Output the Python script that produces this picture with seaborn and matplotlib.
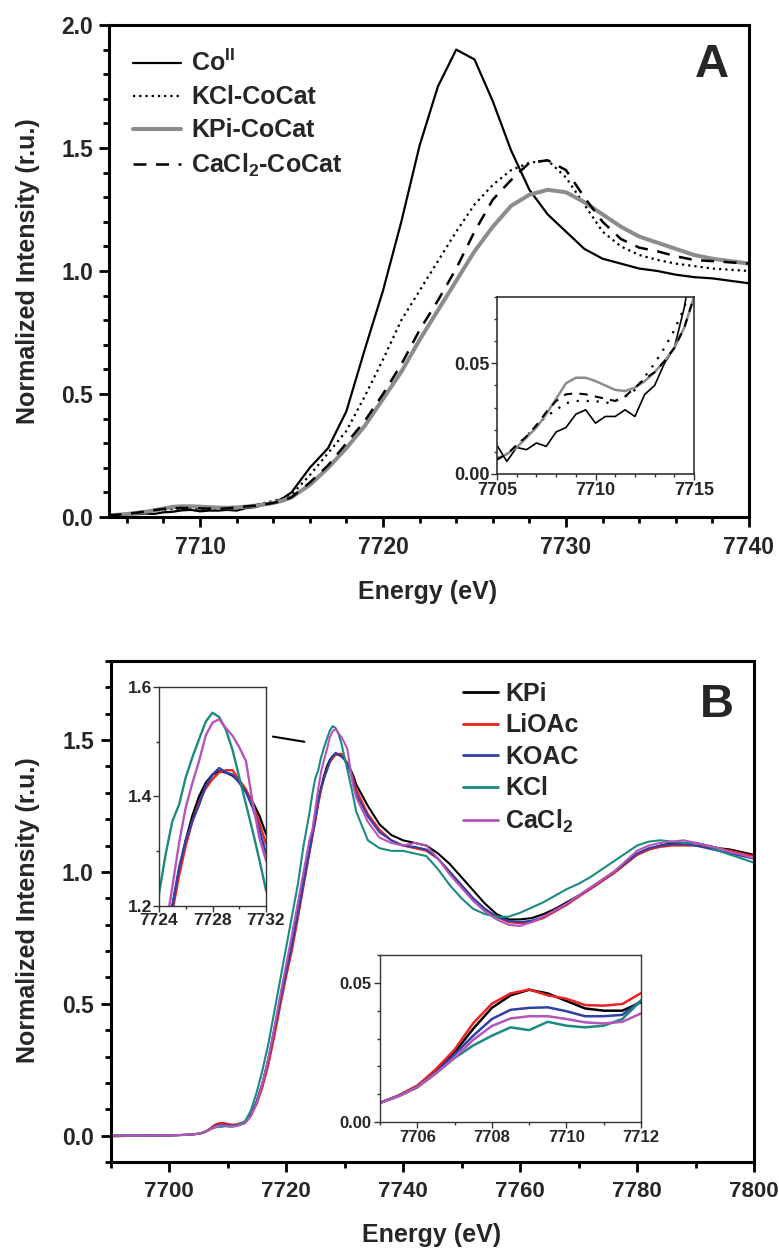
import numpy as np
import pandas as pd
import matplotlib
matplotlib.use("Agg")
import matplotlib.pyplot as plt
import seaborn as sns
from matplotlib.ticker import MultipleLocator, FormatStrFormatter

# ---------------- Panel A data ----------------
energy_a = [7705, 7705.5, 7706, 7706.5, 7707, 7707.5, 7708, 7708.5, 7709, 7709.5,
            7710, 7710.5, 7711, 7711.5, 7712, 7712.5, 7713, 7713.5, 7714, 7714.5, 7715,
            7716, 7717, 7718, 7719, 7720, 7721, 7722, 7723, 7724, 7725, 7726, 7727,
            7728, 7729, 7730, 7731, 7732, 7733, 7734, 7735, 7736, 7737, 7738, 7739, 7740]
co_ii = [0.013, 0.0057, 0.012, 0.011, 0.014, 0.0125, 0.019, 0.021, 0.027, 0.029,
         0.023, 0.026, 0.026, 0.029, 0.026, 0.036, 0.040, 0.050, 0.057, 0.075, 0.10,
         0.20, 0.28, 0.43, 0.68, 0.92, 1.20, 1.51, 1.75, 1.90, 1.86, 1.69, 1.49,
         1.33, 1.23, 1.16, 1.09, 1.05, 1.03, 1.01, 1.00, 0.985, 0.975, 0.97, 0.96, 0.95]
kcl_cocat = [0.007, 0.009, 0.013, 0.017, 0.022, 0.026, 0.029, 0.032, 0.033, 0.033,
             0.033, 0.032, 0.033, 0.035, 0.038, 0.044, 0.050, 0.057, 0.065, 0.075, 0.09,
             0.17, 0.26, 0.35, 0.49, 0.64, 0.80, 0.92, 1.04, 1.16, 1.27, 1.35, 1.41,
             1.44, 1.45, 1.38, 1.27, 1.16, 1.10, 1.065, 1.045, 1.03, 1.02, 1.01, 1.005, 1.00]
kpi_cocat = [0.007, 0.009, 0.012, 0.0165, 0.021, 0.027, 0.034, 0.041, 0.0435, 0.0435,
             0.042, 0.040, 0.038, 0.0375, 0.039, 0.042, 0.046, 0.051, 0.057, 0.066, 0.08,
             0.13, 0.20, 0.28, 0.37, 0.48, 0.59, 0.72, 0.84, 0.96, 1.08, 1.18, 1.265,
             1.31, 1.33, 1.32, 1.28, 1.23, 1.18, 1.14, 1.115, 1.09, 1.065, 1.05, 1.04, 1.03]
cacl2_cocat = [0.0065, 0.009, 0.013, 0.017, 0.022, 0.028, 0.033, 0.036, 0.0365, 0.036,
               0.035, 0.034, 0.033, 0.035, 0.039, 0.043, 0.046, 0.051, 0.057, 0.066, 0.08,
               0.14, 0.21, 0.30, 0.39, 0.50, 0.62, 0.76, 0.88, 1.01, 1.16, 1.29, 1.37,
               1.44, 1.45, 1.41, 1.30, 1.20, 1.13, 1.095, 1.08, 1.06, 1.045, 1.04, 1.035, 1.03]
legend_a = ["Co$^{II}$", "KCl-CoCat", "KPi-CoCat", "CaCl$_{2}$-CoCat"]

# ---------------- Panel B data ----------------
energy_b = [7690, 7695, 7700, 7703,
            7705, 7705.5, 7706, 7706.5, 7707, 7707.5, 7708, 7708.5, 7709, 7709.5,
            7710, 7710.5, 7711, 7711.5, 7712,
            7713, 7714, 7715, 7716, 7717, 7718, 7719, 7720, 7721, 7722, 7723,
            7724, 7724.5, 7725, 7725.5, 7726, 7726.5, 7727, 7727.5, 7728, 7728.5,
            7729, 7729.5, 7730, 7730.5, 7731, 7731.5, 7732,
            7734, 7736, 7738, 7740, 7742, 7744, 7746, 7748, 7750, 7752, 7754, 7756,
            7758, 7760, 7762, 7764, 7766, 7768, 7770, 7772, 7774, 7776, 7778, 7780,
            7782, 7784, 7786, 7788, 7790, 7792, 7794, 7796, 7798, 7800]
kpi = [0.0, 0.0, 0.001, 0.003,
       0.0069, 0.0095, 0.013, 0.0185, 0.025, 0.0335, 0.041, 0.0455, 0.0475, 0.0462,
       0.0435, 0.0408, 0.040, 0.040, 0.043,
       0.05, 0.08, 0.13, 0.20, 0.29, 0.40, 0.51, 0.62, 0.72, 0.84, 0.96,
       1.08, 1.14, 1.20, 1.265, 1.32, 1.365, 1.40, 1.425, 1.44, 1.446,
       1.444, 1.438, 1.428, 1.41, 1.39, 1.365, 1.332,
       1.25, 1.18, 1.14, 1.12, 1.11, 1.10, 1.07, 1.03, 0.98, 0.93, 0.88, 0.84,
       0.82, 0.82, 0.825, 0.84, 0.86, 0.885, 0.91, 0.935, 0.965, 0.995, 1.03, 1.065,
       1.085, 1.10, 1.11, 1.11, 1.11, 1.10, 1.09, 1.085, 1.075, 1.065]
lioac = [-0.003, 0.0, 0.001, 0.003,
         0.0069, 0.0095, 0.013, 0.019, 0.026, 0.0355, 0.0425, 0.0462, 0.0476, 0.0455,
         0.0443, 0.042, 0.0418, 0.0424, 0.0463,
         0.048, 0.075, 0.12, 0.185, 0.27, 0.375, 0.49, 0.60, 0.70, 0.82, 0.945,
         1.07, 1.13, 1.19, 1.255, 1.31, 1.355, 1.39, 1.415, 1.432, 1.444,
         1.448, 1.448, 1.43, 1.413, 1.385, 1.352, 1.314,
         1.22, 1.16, 1.12, 1.10, 1.09, 1.08, 1.05, 1.00, 0.95, 0.90, 0.86, 0.83,
         0.81, 0.805, 0.81, 0.825, 0.85, 0.875, 0.905, 0.935, 0.965, 0.995, 1.03, 1.065,
         1.085, 1.095, 1.10, 1.10, 1.10, 1.095, 1.09, 1.08, 1.07, 1.06]
koac = [0.0, 0.0, 0.001, 0.003,
        0.0069, 0.0093, 0.0125, 0.0178, 0.0243, 0.031, 0.037, 0.0403, 0.041, 0.0412,
        0.0398, 0.038, 0.038, 0.0385, 0.0436,
        0.05, 0.08, 0.13, 0.20, 0.29, 0.40, 0.51, 0.62, 0.72, 0.84, 0.96,
        1.08, 1.14, 1.20, 1.27, 1.32, 1.355, 1.385, 1.42, 1.44, 1.452,
        1.444, 1.44, 1.425, 1.408, 1.38, 1.34, 1.296,
        1.21, 1.15, 1.12, 1.10, 1.095, 1.085, 1.05, 1.00, 0.95, 0.90, 0.86, 0.83,
        0.815, 0.81, 0.815, 0.83, 0.855, 0.88, 0.91, 0.94, 0.97, 1.00, 1.035, 1.07,
        1.09, 1.10, 1.105, 1.105, 1.10, 1.09, 1.08, 1.07, 1.06, 1.05]
kcl = [0.0, 0.0, 0.001, 0.003,
       0.0069, 0.0093, 0.0125, 0.0175, 0.023, 0.0275, 0.031, 0.034, 0.033, 0.036,
       0.0346, 0.034, 0.0346, 0.037, 0.0436,
       0.055, 0.095, 0.165, 0.25, 0.35, 0.47, 0.59, 0.71, 0.83, 0.95, 1.10,
       1.2225, 1.295, 1.355, 1.385, 1.435, 1.472, 1.505, 1.537, 1.553, 1.545,
       1.522, 1.485, 1.435, 1.386, 1.337, 1.285, 1.229,
       1.12, 1.09, 1.08, 1.08, 1.07, 1.06, 1.01, 0.95, 0.90, 0.86, 0.84, 0.83,
       0.83, 0.845, 0.865, 0.885, 0.91, 0.935, 0.955, 0.98, 1.01, 1.04, 1.07, 1.10,
       1.115, 1.12, 1.115, 1.11, 1.11, 1.10, 1.08, 1.065, 1.05, 1.035]
cacl2 = [0.0, 0.0, 0.001, 0.003,
         0.0069, 0.0093, 0.0125, 0.0175, 0.0231, 0.0295, 0.0345, 0.0372, 0.038, 0.038,
         0.037, 0.0358, 0.0354, 0.036, 0.039,
         0.047, 0.075, 0.125, 0.20, 0.295, 0.41, 0.53, 0.645, 0.76, 0.88, 1.00,
         1.12, 1.16, 1.235, 1.315, 1.38, 1.425, 1.465, 1.512, 1.535, 1.541,
         1.525, 1.511, 1.49, 1.465, 1.39, 1.325, 1.283,
         1.19, 1.13, 1.11, 1.10, 1.11, 1.10, 1.05, 0.99, 0.94, 0.89, 0.85, 0.82,
         0.80, 0.795, 0.81, 0.83, 0.855, 0.88, 0.91, 0.94, 0.97, 1.00, 1.04, 1.08,
         1.10, 1.11, 1.115, 1.12, 1.11, 1.10, 1.09, 1.075, 1.065, 1.05]
legend_b = ["KPi", "LiOAc", "KOAC", "KCl", "CaCl$_{2}$"]
colors_b = ["#000000", "#ee2222", "#3040a8", "#1b8a80", "#b555bb"]

# ---------------- Style ----------------
sns.set_theme(style="ticks")
plt.rcParams["font.family"] = ["Liberation Sans", "DejaVu Sans"]
plt.rcParams["font.weight"] = "bold"
plt.rcParams["mathtext.fontset"] = "custom"
plt.rcParams["mathtext.rm"] = "Liberation Sans:bold"
plt.rcParams["mathtext.bf"] = "Liberation Sans:bold"
plt.rcParams["mathtext.default"] = "bf"


def style_axes(ax, spine_lw, tick_lw, major_len, minor_len, color="black"):
    for s in ax.spines.values():
        s.set_linewidth(spine_lw)
        s.set_color(color)
        s.set_visible(True)
    ax.tick_params(which="both", direction="out", top=False, right=False,
                   color=color, width=tick_lw)
    ax.tick_params(which="major", length=major_len)
    ax.tick_params(which="minor", length=minor_len)
    ax.set_xlabel("")
    ax.set_ylabel("")
    ax.grid(False)
    ax.set_facecolor("white")


def bold_ticks(ax):
    for lbl in ax.get_xticklabels() + ax.get_yticklabels():
        lbl.set_fontweight("bold")


fig = plt.figure(figsize=(7.79, 12.48), dpi=100)
W, H = 779.0, 1248.0


def rect(x0, y0, x1, y1):
    return [x0 / W, 1 - y1 / H, (x1 - x0) / W, (y1 - y0) / H]


df_a = pd.DataFrame({"E": energy_a, "co": co_ii, "kcl": kcl_cocat,
                     "kpi": kpi_cocat, "cacl2": cacl2_cocat})
df_b = pd.DataFrame({"E": energy_b, "kpi": kpi, "lioac": lioac, "koac": koac,
                     "kcl": kcl, "cacl2": cacl2})

styles_a = [
    ("co", dict(color="black", lw=1.6, ls="-")),
    ("kcl", dict(color="black", lw=1.6, ls=(0, (1, 1.8)))),
    ("kpi", dict(color="#8c8c8c", lw=2.9, ls="-")),
    ("cacl2", dict(color="black", lw=1.8, ls=(0, (5.2, 3.8)))),
]

# ---------------- Panel A ----------------
axA = fig.add_axes(rect(108.5, 25, 749, 517))
for (col, st), lab in zip(styles_a, legend_a):
    sns.lineplot(data=df_a, x="E", y=col, ax=axA, label=lab, errorbar=None, **st)
axA.set_xlim(7705, 7740)
axA.set_ylim(0, 2.0)
axA.xaxis.set_major_locator(MultipleLocator(10))
axA.xaxis.set_minor_locator(MultipleLocator(2))
axA.yaxis.set_major_locator(MultipleLocator(0.5))
axA.yaxis.set_minor_locator(MultipleLocator(0.1))
axA.yaxis.set_major_formatter(FormatStrFormatter("%.1f"))
axA.set_xticks([7710, 7720, 7730, 7740])
style_axes(axA, 2.2, 2.0, 7, 4)
axA.tick_params(axis="x", which="major", labelsize=16.5, pad=7)
axA.tick_params(axis="y", which="major", labelsize=16.5, pad=4)
bold_ticks(axA)
leg = axA.legend(loc="upper left", bbox_to_anchor=(133 / W, 1 - 50 / H),
                 bbox_transform=fig.transFigure, frameon=False, fontsize=18,
                 handlelength=1.9, handletextpad=0.42, labelspacing=0.36,
                 borderpad=0, borderaxespad=0)
for t in leg.get_texts():
    t.set_fontweight("bold")
axA.text(0.942, 0.919, "A", transform=axA.transAxes, ha="center", va="center",
         fontsize=34, fontweight="bold")

# inset A (pre-edge)
axAi = fig.add_axes(rect(497, 297, 694, 474))
styles_ai = [
    ("co", dict(color="black", lw=1.2, ls="-")),
    ("kcl", dict(color="black", lw=1.6, ls=(0, (1, 3.5)))),
    ("kpi", dict(color="#8c8c8c", lw=1.8, ls="-")),
    ("cacl2", dict(color="black", lw=1.5, ls=(0, (4, 3.5)))),
]
for col, st in styles_ai:
    sns.lineplot(data=df_a, x="E", y=col, ax=axAi, errorbar=None, legend=False, **st)
axAi.set_xlim(7705, 7715)
axAi.set_ylim(0, 0.08)
axAi.xaxis.set_major_locator(MultipleLocator(5))
axAi.xaxis.set_minor_locator(MultipleLocator(1))
axAi.yaxis.set_major_locator(MultipleLocator(0.05))
axAi.yaxis.set_minor_locator(MultipleLocator(0.01))
axAi.yaxis.set_major_formatter(FormatStrFormatter("%.2f"))
style_axes(axAi, 1.2, 1.0, 4, 2.5, color="#333333")
axAi.tick_params(which="major", labelsize=13, pad=1.5)
bold_ticks(axAi)

fig.text(28 / W, 1 - 271 / H, "Normalized Intensity (r.u.)", rotation=90,
         ha="center", va="center", fontsize=18, fontweight="bold")
fig.text(428 / W, 1 - 592 / H, "Energy (eV)", ha="center", va="center",
         fontsize=18, fontweight="bold")

# ---------------- Panel B ----------------
axB = fig.add_axes(rect(110.5, 661, 754, 1162))
for col, lab, c in zip(["kpi", "lioac", "koac", "kcl", "cacl2"], legend_b, colors_b):
    sns.lineplot(data=df_b, x="E", y=col, ax=axB, label=lab, color=c, lw=1.5,
                 errorbar=None)
axB.set_xlim(7690, 7800)
axB.set_ylim(-0.1, 1.8)
axB.xaxis.set_major_locator(MultipleLocator(20))
axB.xaxis.set_minor_locator(MultipleLocator(10))
axB.yaxis.set_major_locator(MultipleLocator(0.5))
axB.yaxis.set_minor_locator(MultipleLocator(0.1))
axB.yaxis.set_major_formatter(FormatStrFormatter("%.1f"))
axB.set_xticks([7700, 7720, 7740, 7760, 7780, 7800])
style_axes(axB, 2.2, 2.0, 7, 4.5)
axB.tick_params(axis="x", which="major", labelsize=16, pad=7)
axB.tick_params(axis="y", which="major", labelsize=16.5, pad=5)
bold_ticks(axB)
legB = axB.legend(loc="upper left", bbox_to_anchor=(463 / W, 1 - 682 / H),
                  bbox_transform=fig.transFigure, frameon=False,
                  prop=dict(weight="bold", size=18),
                  handlelength=1.4, handletextpad=0.3, labelspacing=0.3,
                  borderpad=0, borderaxespad=0)
for l in legB.get_lines():
    l.set_linewidth(2.0)
axB.text(0.9425, 0.912, "B", transform=axB.transAxes, ha="center", va="center",
         fontsize=34, fontweight="bold")
# pointer from the inset to the white-line peak
axB.annotate("", xy=(7723.6, 1.492), xytext=(7717.3, 1.515),
             arrowprops=dict(arrowstyle="-", color="black", lw=1.5))

# inset B top-left (white line)
axBi1 = fig.add_axes(rect(159, 687, 266, 906))
for col, c in zip(["kpi", "lioac", "koac", "kcl", "cacl2"], colors_b):
    sns.lineplot(data=df_b, x="E", y=col, ax=axBi1, color=c, lw=1.7,
                 errorbar=None, legend=False)
axBi1.set_xlim(7724, 7732)
axBi1.set_ylim(1.2, 1.6)
axBi1.xaxis.set_major_locator(MultipleLocator(4))
axBi1.xaxis.set_minor_locator(MultipleLocator(2))
axBi1.yaxis.set_major_locator(MultipleLocator(0.2))
axBi1.yaxis.set_minor_locator(MultipleLocator(0.1))
axBi1.yaxis.set_major_formatter(FormatStrFormatter("%.1f"))
style_axes(axBi1, 1.0, 1.0, 4, 2.5, color="#333333")
axBi1.tick_params(which="major", labelsize=12.5, pad=1)
bold_ticks(axBi1)

# inset B bottom-right (pre-edge)
axBi2 = fig.add_axes(rect(380, 955, 641, 1122))
for col, c in zip(["kpi", "lioac", "koac", "kcl", "cacl2"], colors_b):
    sns.lineplot(data=df_b, x="E", y=col, ax=axBi2, color=c, lw=1.8,
                 errorbar=None, legend=False)
axBi2.set_xlim(7705, 7712)
axBi2.set_ylim(0, 0.06)
axBi2.set_xticks([7706, 7708, 7710, 7712])
axBi2.xaxis.set_minor_locator(MultipleLocator(1))
axBi2.yaxis.set_major_locator(MultipleLocator(0.05))
axBi2.yaxis.set_minor_locator(MultipleLocator(0.01))
axBi2.yaxis.set_major_formatter(FormatStrFormatter("%.2f"))
style_axes(axBi2, 1.0, 1.0, 4, 2.5, color="#333333")
axBi2.tick_params(which="major", labelsize=12, pad=2)
bold_ticks(axBi2)

fig.text(28 / W, 1 - 910 / H, "Normalized Intensity (r.u.)", rotation=90,
         ha="center", va="center", fontsize=18, fontweight="bold")
fig.text(432 / W, 1 - 1235 / H, "Energy (eV)", ha="center", va="center",
         fontsize=18, fontweight="bold")

fig.savefig("out.png", dpi=100)
